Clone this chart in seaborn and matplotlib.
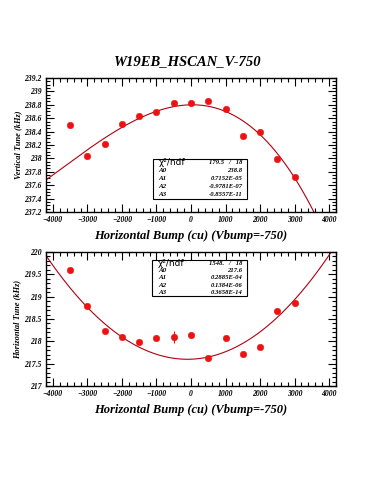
import numpy as np
import pandas as pd
import matplotlib
matplotlib.use("Agg")
import matplotlib.pyplot as plt
import seaborn as sns
from matplotlib.ticker import MultipleLocator, FormatStrFormatter

# Horizontal bump settings (cu)
bump = [-3500, -3000, -2500, -2000, -1500, -1000, -500, 0, 500, 1000, 1500, 2000, 2500, 3000]

# Vertical tune (kHz)
vtune = [238.50, 238.04, 238.21, 238.52, 238.63, 238.70, 238.82, 238.82, 238.86,
         238.74, 238.34, 238.39, 237.99, 237.72]

# Horizontal tune (kHz)
htune = [219.60, 218.78, 218.23, 218.09, 217.99, 218.08, 218.10, 218.15, 217.63,
         218.08, 217.71, 217.88, 218.67, 218.86]
htune_err = [0, 0, 0, 0, 0, 0, 0.13, 0, 0, 0, 0, 0, 0, 0]

# cubic fit parameters shown in the stat boxes
vfit = [238.8, 0.7152e-05, -0.9781e-07, -0.8557e-11]
hfit = [217.6, 0.2885e-04, 0.1384e-06, 0.3658e-14]
vstats = ["179.5   /   18", "238.8", "0.7152E-05", "-0.9781E-07", "-0.8557E-11"]
hstats = ["1548.   /   18", "217.6", "0.2885E-04", "0.1384E-06", "0.3658E-14"]

sns.set_style("ticks")
plt.rcParams['font.family'] = ['Liberation Serif', 'DejaVu Serif']
plt.rcParams['font.weight'] = 'bold'
plt.rcParams['font.style'] = 'italic'
plt.rcParams['text.color'] = 'black'
plt.rcParams['axes.labelcolor'] = 'black'
plt.rcParams['axes.labelweight'] = 'bold'
plt.rcParams['xtick.color'] = 'black'
plt.rcParams['ytick.color'] = 'black'
plt.rcParams['axes.edgecolor'] = 'black'

fig = plt.figure(figsize=(3.75, 5), dpi=100)
ax1 = fig.add_axes([0.1227, 0.576, 0.7733, 0.268])
ax2 = fig.add_axes([0.1227, 0.228, 0.7733, 0.268])

xs = np.linspace(-4200, 4200, 400)
dots = '#ee1111'
line = '#b00010'


def fit_curve(p):
    return p[0] + p[1] * xs + p[2] * xs**2 + p[3] * xs**3


def stat_box(ax, x0, y0, w, h, vals):
    ax.add_patch(plt.Rectangle((x0, y0), w, h, transform=ax.transAxes, fill=False,
                               lw=0.8, color='black', zorder=5))
    names = ["\u03c7\u00b2/ndf", "A0", "A1", "A2", "A3"]
    for i, (n, v) in enumerate(zip(names, vals)):
        yy = y0 + h - (i + 0.5) * h / 5
        if i == 0:
            ax.text(x0 + 0.02, yy, n, transform=ax.transAxes, fontsize=6.5,
                    va='center', ha='left', family=['DejaVu Sans'],
                    fontweight='normal', fontstyle='normal')
        else:
            ax.text(x0 + 0.02, yy, n, transform=ax.transAxes, fontsize=5,
                    va='center', ha='left')
        ax.text(x0 + w - 0.015, yy, v, transform=ax.transAxes, fontsize=4.8,
                va='center', ha='right')


# top panel: vertical tune
df_v = pd.DataFrame({'bump': bump, 'tune': vtune})
sns.lineplot(x=xs, y=fit_curve(vfit), ax=ax1, color=line, lw=0.8)
sns.scatterplot(data=df_v, x='bump', y='tune', ax=ax1, color=dots, s=22,
                edgecolor=dots, zorder=4)
ax1.set_xlim(-4200, 4200)
ax1.set_ylim(237.2, 239.2)
ax1.yaxis.set_major_locator(MultipleLocator(0.2))
ax1.yaxis.set_minor_locator(MultipleLocator(0.05))
ax1.set_ylabel('Vertical Tune (kHz)', fontsize=6, labelpad=2)
stat_box(ax1, 0.369, 0.097, 0.324, 0.299, vstats)

# bottom panel: horizontal tune
df_h = pd.DataFrame({'bump': bump, 'tune': htune, 'err': htune_err})
sns.lineplot(x=xs, y=fit_curve(hfit), ax=ax2, color=line, lw=0.8)
ax2.errorbar(df_h['bump'], df_h['tune'], yerr=df_h['err'], fmt='none',
             ecolor=dots, elinewidth=0.8, zorder=3)
sns.scatterplot(data=df_h, x='bump', y='tune', ax=ax2, color=dots, s=22,
                edgecolor=dots, zorder=4)
ax2.set_xlim(-4200, 4200)
ax2.set_ylim(217, 220)
ax2.yaxis.set_major_locator(MultipleLocator(0.5))
ax2.yaxis.set_minor_locator(MultipleLocator(0.1))
ax2.set_ylabel('Horizontal Tune (kHz)', fontsize=6, labelpad=2)
stat_box(ax2, 0.366, 0.672, 0.327, 0.268, hstats)

for ax in (ax1, ax2):
    ax.xaxis.set_major_locator(MultipleLocator(1000))
    ax.xaxis.set_minor_locator(MultipleLocator(200))
    ax.yaxis.set_major_formatter(FormatStrFormatter('%g'))
    ax.tick_params(which='both', direction='in', top=True, right=True,
                   labelsize=5.5, width=0.8, pad=3)
    ax.tick_params(which='major', length=6)
    ax.tick_params(which='minor', length=3)
    for sp in ax.spines.values():
        sp.set_linewidth(1.0)
    ax.set_xlabel('Horizontal Bump (cu) (Vbump=-750)', fontsize=9, labelpad=4)

fig.text(0.5, 0.877, 'W19EB_HSCAN_V-750', ha='center', va='center', fontsize=10.5)

fig.savefig('out.png', dpi=100)
